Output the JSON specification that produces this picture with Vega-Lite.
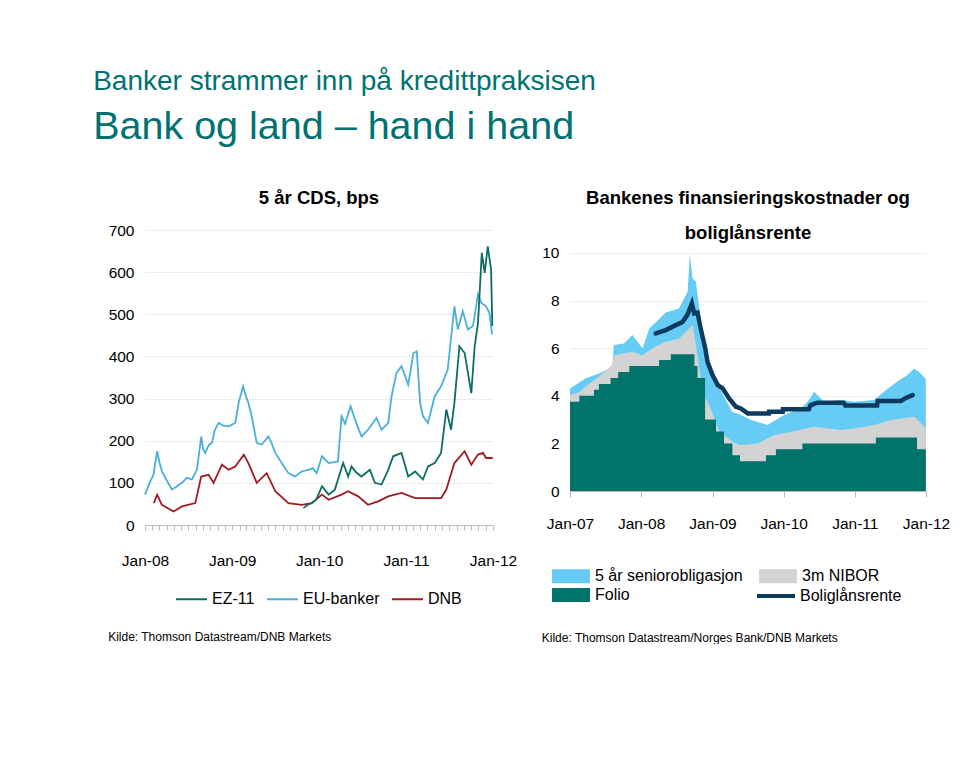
{
 "$schema": "https://vega.github.io/schema/vega-lite/v6.json",
 "background": "white",
 "padding": {"left": 93, "top": 68, "right": 0, "bottom": 0},
 "title": {
  "text": "Banker strammer inn på kredittpraksisen",
  "subtitle": "Bank og land – hand i hand",
  "anchor": "start", "frame": "bounds",
  "font": "Liberation Sans", "fontSize": 28, "fontWeight": "normal", "color": "#007272",
  "subtitleFont": "Liberation Sans", "subtitleFontSize": 39.5, "subtitleColor": "#007272", "subtitlePadding": 12,
  "offset": 42, "dx": -15
 },
 "datasets": {
  "cds": [
   {"date":"2008-01-01","series":"EU-banker","value":72},
   {"date":"2008-01-12","series":"EU-banker","value":88},
   {"date":"2008-01-20","series":"EU-banker","value":100},
   {"date":"2008-02-05","series":"EU-banker","value":118},
   {"date":"2008-02-21","series":"EU-banker","value":175},
   {"date":"2008-03-01","series":"EU-banker","value":150},
   {"date":"2008-03-12","series":"EU-banker","value":127},
   {"date":"2008-04-02","series":"EU-banker","value":105},
   {"date":"2008-04-23","series":"EU-banker","value":84},
   {"date":"2008-05-10","series":"EU-banker","value":90},
   {"date":"2008-06-04","series":"EU-banker","value":100},
   {"date":"2008-06-25","series":"EU-banker","value":112},
   {"date":"2008-07-16","series":"EU-banker","value":108},
   {"date":"2008-08-06","series":"EU-banker","value":131},
   {"date":"2008-08-24","series":"EU-banker","value":210},
   {"date":"2008-09-01","series":"EU-banker","value":180},
   {"date":"2008-09-10","series":"EU-banker","value":171},
   {"date":"2008-09-25","series":"EU-banker","value":190},
   {"date":"2008-10-08","series":"EU-banker","value":195},
   {"date":"2008-10-20","series":"EU-banker","value":225},
   {"date":"2008-11-05","series":"EU-banker","value":242},
   {"date":"2008-11-25","series":"EU-banker","value":236},
   {"date":"2008-12-17","series":"EU-banker","value":234},
   {"date":"2009-01-14","series":"EU-banker","value":242},
   {"date":"2009-01-28","series":"EU-banker","value":290},
   {"date":"2009-02-16","series":"EU-banker","value":329},
   {"date":"2009-02-28","series":"EU-banker","value":305},
   {"date":"2009-03-10","series":"EU-banker","value":290},
   {"date":"2009-03-24","series":"EU-banker","value":258},
   {"date":"2009-04-14","series":"EU-banker","value":195},
   {"date":"2009-05-05","series":"EU-banker","value":191},
   {"date":"2009-06-02","series":"EU-banker","value":210},
   {"date":"2009-06-15","series":"EU-banker","value":195},
   {"date":"2009-07-01","series":"EU-banker","value":171},
   {"date":"2009-07-28","series":"EU-banker","value":147},
   {"date":"2009-08-25","series":"EU-banker","value":123},
   {"date":"2009-09-22","series":"EU-banker","value":115},
   {"date":"2009-10-20","series":"EU-banker","value":127},
   {"date":"2009-11-17","series":"EU-banker","value":131},
   {"date":"2009-12-05","series":"EU-banker","value":135},
   {"date":"2009-12-22","series":"EU-banker","value":123},
   {"date":"2010-01-13","series":"EU-banker","value":163},
   {"date":"2010-02-10","series":"EU-banker","value":147},
   {"date":"2010-03-21","series":"EU-banker","value":151},
   {"date":"2010-04-05","series":"EU-banker","value":258},
   {"date":"2010-04-20","series":"EU-banker","value":240},
   {"date":"2010-05-13","series":"EU-banker","value":282},
   {"date":"2010-06-01","series":"EU-banker","value":250},
   {"date":"2010-06-28","series":"EU-banker","value":210},
   {"date":"2010-07-25","series":"EU-banker","value":226},
   {"date":"2010-08-30","series":"EU-banker","value":254},
   {"date":"2010-09-20","series":"EU-banker","value":226},
   {"date":"2010-10-18","series":"EU-banker","value":242},
   {"date":"2010-11-01","series":"EU-banker","value":305},
   {"date":"2010-11-22","series":"EU-banker","value":361},
   {"date":"2010-12-13","series":"EU-banker","value":377},
   {"date":"2011-01-10","series":"EU-banker","value":333},
   {"date":"2011-02-01","series":"EU-banker","value":408},
   {"date":"2011-02-15","series":"EU-banker","value":412},
   {"date":"2011-03-01","series":"EU-banker","value":290},
   {"date":"2011-03-13","series":"EU-banker","value":258},
   {"date":"2011-04-03","series":"EU-banker","value":242},
   {"date":"2011-05-01","series":"EU-banker","value":305},
   {"date":"2011-05-28","series":"EU-banker","value":329},
   {"date":"2011-06-25","series":"EU-banker","value":369},
   {"date":"2011-07-23","series":"EU-banker","value":519},
   {"date":"2011-08-06","series":"EU-banker","value":464},
   {"date":"2011-08-27","series":"EU-banker","value":507},
   {"date":"2011-09-18","series":"EU-banker","value":464},
   {"date":"2011-10-09","series":"EU-banker","value":472},
   {"date":"2011-10-30","series":"EU-banker","value":547},
   {"date":"2011-11-13","series":"EU-banker","value":527},
   {"date":"2011-12-03","series":"EU-banker","value":519},
   {"date":"2011-12-17","series":"EU-banker","value":503},
   {"date":"2011-12-28","series":"EU-banker","value":452},
   {"date":"2008-02-07","series":"DNB","value":52},
   {"date":"2008-02-21","series":"DNB","value":72},
   {"date":"2008-03-12","series":"DNB","value":48},
   {"date":"2008-04-30","series":"DNB","value":32},
   {"date":"2008-06-04","series":"DNB","value":44},
   {"date":"2008-07-30","series":"DNB","value":52},
   {"date":"2008-08-24","series":"DNB","value":115},
   {"date":"2008-09-24","series":"DNB","value":119},
   {"date":"2008-10-15","series":"DNB","value":100},
   {"date":"2008-11-19","series":"DNB","value":143},
   {"date":"2008-12-17","series":"DNB","value":131},
   {"date":"2009-01-14","series":"DNB","value":139},
   {"date":"2009-02-19","series":"DNB","value":167},
   {"date":"2009-03-10","series":"DNB","value":147},
   {"date":"2009-04-14","series":"DNB","value":100},
   {"date":"2009-05-26","series":"DNB","value":123},
   {"date":"2009-07-01","series":"DNB","value":80},
   {"date":"2009-08-25","series":"DNB","value":52},
   {"date":"2009-10-20","series":"DNB","value":48},
   {"date":"2009-12-01","series":"DNB","value":52},
   {"date":"2010-01-13","series":"DNB","value":72},
   {"date":"2010-02-10","series":"DNB","value":60},
   {"date":"2010-04-05","series":"DNB","value":72},
   {"date":"2010-05-03","series":"DNB","value":80},
   {"date":"2010-06-14","series":"DNB","value":68},
   {"date":"2010-07-25","series":"DNB","value":48},
   {"date":"2010-09-06","series":"DNB","value":56},
   {"date":"2010-10-18","series":"DNB","value":68},
   {"date":"2010-12-13","series":"DNB","value":76},
   {"date":"2011-02-08","series":"DNB","value":64},
   {"date":"2011-04-03","series":"DNB","value":64},
   {"date":"2011-05-28","series":"DNB","value":64},
   {"date":"2011-06-19","series":"DNB","value":84},
   {"date":"2011-07-23","series":"DNB","value":147},
   {"date":"2011-09-04","series":"DNB","value":175},
   {"date":"2011-10-02","series":"DNB","value":143},
   {"date":"2011-10-30","series":"DNB","value":167},
   {"date":"2011-11-20","series":"DNB","value":171},
   {"date":"2011-12-03","series":"DNB","value":159},
   {"date":"2011-12-31","series":"DNB","value":159},
   {"date":"2009-10-27","series":"EZ-11","value":40},
   {"date":"2009-11-15","series":"EZ-11","value":48},
   {"date":"2009-12-01","series":"EZ-11","value":52},
   {"date":"2009-12-20","series":"EZ-11","value":60},
   {"date":"2010-01-13","series":"EZ-11","value":92},
   {"date":"2010-02-10","series":"EZ-11","value":72},
   {"date":"2010-03-08","series":"EZ-11","value":84},
   {"date":"2010-04-12","series":"EZ-11","value":147},
   {"date":"2010-05-03","series":"EZ-11","value":115},
   {"date":"2010-05-17","series":"EZ-11","value":139},
   {"date":"2010-06-05","series":"EZ-11","value":125},
   {"date":"2010-06-28","series":"EZ-11","value":115},
   {"date":"2010-08-02","series":"EZ-11","value":131},
   {"date":"2010-08-23","series":"EZ-11","value":100},
   {"date":"2010-09-20","series":"EZ-11","value":96},
   {"date":"2010-10-18","series":"EZ-11","value":131},
   {"date":"2010-11-08","series":"EZ-11","value":163},
   {"date":"2010-12-13","series":"EZ-11","value":171},
   {"date":"2011-01-10","series":"EZ-11","value":115},
   {"date":"2011-02-08","series":"EZ-11","value":127},
   {"date":"2011-03-13","series":"EZ-11","value":108},
   {"date":"2011-04-03","series":"EZ-11","value":139},
   {"date":"2011-05-01","series":"EZ-11","value":147},
   {"date":"2011-05-28","series":"EZ-11","value":171},
   {"date":"2011-06-19","series":"EZ-11","value":274},
   {"date":"2011-07-09","series":"EZ-11","value":226},
   {"date":"2011-07-23","series":"EZ-11","value":290},
   {"date":"2011-08-13","series":"EZ-11","value":424},
   {"date":"2011-09-04","series":"EZ-11","value":408},
   {"date":"2011-10-02","series":"EZ-11","value":313},
   {"date":"2011-10-16","series":"EZ-11","value":424},
   {"date":"2011-10-30","series":"EZ-11","value":479},
   {"date":"2011-11-15","series":"EZ-11","value":646},
   {"date":"2011-11-27","series":"EZ-11","value":598},
   {"date":"2011-12-10","series":"EZ-11","value":661},
   {"date":"2011-12-24","series":"EZ-11","value":606},
   {"date":"2011-12-29","series":"EZ-11","value":472}
  ],
  "fund": [
   {"date":"2007-01-01","series":"5 år seniorobligasjon","value":4.31},
   {"date":"2007-03-21","series":"5 år seniorobligasjon","value":4.73},
   {"date":"2007-05-29","series":"5 år seniorobligasjon","value":4.94},
   {"date":"2007-08-06","series":"5 år seniorobligasjon","value":5.2},
   {"date":"2007-08-14","series":"5 år seniorobligasjon","value":6.13},
   {"date":"2007-10-05","series":"5 år seniorobligasjon","value":6.2},
   {"date":"2007-11-17","series":"5 år seniorobligasjon","value":6.55},
   {"date":"2008-01-08","series":"5 år seniorobligasjon","value":6.0},
   {"date":"2008-02-12","series":"5 år seniorobligasjon","value":6.83},
   {"date":"2008-05-06","series":"5 år seniorobligasjon","value":7.5},
   {"date":"2008-07-13","series":"5 år seniorobligasjon","value":7.67},
   {"date":"2008-08-26","series":"5 år seniorobligasjon","value":8.37},
   {"date":"2008-09-07","series":"5 år seniorobligasjon","value":9.94},
   {"date":"2008-09-21","series":"5 år seniorobligasjon","value":8.93},
   {"date":"2008-10-08","series":"5 år seniorobligasjon","value":8.8},
   {"date":"2008-10-25","series":"5 år seniorobligasjon","value":7.67},
   {"date":"2008-11-19","series":"5 år seniorobligasjon","value":6.13},
   {"date":"2008-12-15","series":"5 år seniorobligasjon","value":5.0},
   {"date":"2009-02-06","series":"5 år seniorobligasjon","value":4.31},
   {"date":"2009-04-13","series":"5 år seniorobligasjon","value":3.33},
   {"date":"2009-05-26","series":"5 år seniorobligasjon","value":3.2},
   {"date":"2009-07-12","series":"5 år seniorobligasjon","value":3.0},
   {"date":"2009-10-10","series":"5 år seniorobligasjon","value":2.77},
   {"date":"2010-01-03","series":"5 år seniorobligasjon","value":3.19},
   {"date":"2010-03-28","series":"5 år seniorobligasjon","value":3.47},
   {"date":"2010-05-04","series":"5 år seniorobligasjon","value":3.75},
   {"date":"2010-06-06","series":"5 år seniorobligasjon","value":4.17},
   {"date":"2010-07-28","series":"5 år seniorobligasjon","value":3.75},
   {"date":"2010-10-21","series":"5 år seniorobligasjon","value":3.82},
   {"date":"2010-12-29","series":"5 år seniorobligasjon","value":3.75},
   {"date":"2011-04-10","series":"5 år seniorobligasjon","value":3.82},
   {"date":"2011-05-30","series":"5 år seniorobligasjon","value":4.17},
   {"date":"2011-08-07","series":"5 år seniorobligasjon","value":4.6},
   {"date":"2011-09-27","series":"5 år seniorobligasjon","value":4.87},
   {"date":"2011-11-02","series":"5 år seniorobligasjon","value":5.15},
   {"date":"2011-12-06","series":"5 år seniorobligasjon","value":4.94},
   {"date":"2011-12-31","series":"5 år seniorobligasjon","value":4.7},
   {"date":"2007-01-01","series":"3m NIBOR","value":4.03},
   {"date":"2007-02-17","series":"3m NIBOR","value":4.15},
   {"date":"2007-03-21","series":"3m NIBOR","value":4.38},
   {"date":"2007-05-29","series":"3m NIBOR","value":4.8},
   {"date":"2007-08-06","series":"3m NIBOR","value":5.3},
   {"date":"2007-08-14","series":"3m NIBOR","value":5.7},
   {"date":"2007-11-17","series":"3m NIBOR","value":5.85},
   {"date":"2008-01-08","series":"3m NIBOR","value":5.7},
   {"date":"2008-02-28","series":"3m NIBOR","value":6.0},
   {"date":"2008-05-06","series":"3m NIBOR","value":6.27},
   {"date":"2008-07-13","series":"3m NIBOR","value":6.4},
   {"date":"2008-09-04","series":"3m NIBOR","value":6.83},
   {"date":"2008-09-21","series":"3m NIBOR","value":6.97},
   {"date":"2008-10-16","series":"3m NIBOR","value":5.7},
   {"date":"2008-11-11","series":"3m NIBOR","value":4.17},
   {"date":"2008-12-15","series":"3m NIBOR","value":3.6},
   {"date":"2009-02-06","series":"3m NIBOR","value":2.5},
   {"date":"2009-04-13","series":"3m NIBOR","value":2.07},
   {"date":"2009-05-26","series":"3m NIBOR","value":1.93},
   {"date":"2009-08-20","series":"3m NIBOR","value":2.0},
   {"date":"2009-11-14","series":"3m NIBOR","value":2.35},
   {"date":"2010-02-08","series":"3m NIBOR","value":2.49},
   {"date":"2010-06-06","series":"3m NIBOR","value":2.7},
   {"date":"2010-10-21","series":"3m NIBOR","value":2.56},
   {"date":"2010-12-29","series":"3m NIBOR","value":2.63},
   {"date":"2011-04-10","series":"3m NIBOR","value":2.77},
   {"date":"2011-07-04","series":"3m NIBOR","value":2.98},
   {"date":"2011-11-02","series":"3m NIBOR","value":3.12},
   {"date":"2011-12-15","series":"3m NIBOR","value":2.77},
   {"date":"2011-12-31","series":"3m NIBOR","value":2.63},
   {"date":"2007-01-01","series":"Folio","value":3.75},
   {"date":"2007-02-18","series":"Folio","value":4.0},
   {"date":"2007-05-04","series":"Folio","value":4.25},
   {"date":"2007-05-29","series":"Folio","value":4.5},
   {"date":"2007-07-28","series":"Folio","value":4.75},
   {"date":"2007-09-05","series":"Folio","value":5.0},
   {"date":"2007-11-01","series":"Folio","value":5.25},
   {"date":"2008-04-02","series":"Folio","value":5.5},
   {"date":"2008-06-01","series":"Folio","value":5.75},
   {"date":"2008-09-30","series":"Folio","value":5.25},
   {"date":"2008-10-16","series":"Folio","value":4.75},
   {"date":"2008-11-24","series":"Folio","value":3.0},
   {"date":"2009-01-19","series":"Folio","value":2.5},
   {"date":"2009-03-01","series":"Folio","value":2.0},
   {"date":"2009-04-13","series":"Folio","value":1.5},
   {"date":"2009-05-22","series":"Folio","value":1.25},
   {"date":"2009-10-02","series":"Folio","value":1.5},
   {"date":"2009-11-22","series":"Folio","value":1.75},
   {"date":"2010-04-07","series":"Folio","value":2.0},
   {"date":"2011-04-19","series":"Folio","value":2.25},
   {"date":"2011-11-16","series":"Folio","value":1.75},
   {"date":"2011-12-31","series":"Folio","value":1.75},
   {"date":"2008-03-16","series":"Boliglånsrente","value":6.62},
   {"date":"2008-05-06","series":"Boliglånsrente","value":6.76},
   {"date":"2008-06-27","series":"Boliglånsrente","value":6.97},
   {"date":"2008-07-31","series":"Boliglånsrente","value":7.1},
   {"date":"2008-08-25","series":"Boliglånsrente","value":7.4},
   {"date":"2008-09-17","series":"Boliglånsrente","value":7.88},
   {"date":"2008-09-29","series":"Boliglånsrente","value":7.46},
   {"date":"2008-10-16","series":"Boliglånsrente","value":7.5},
   {"date":"2008-11-03","series":"Boliglånsrente","value":6.76},
   {"date":"2008-11-25","series":"Boliglånsrente","value":5.99},
   {"date":"2008-12-06","series":"Boliglånsrente","value":5.43},
   {"date":"2009-01-01","series":"Boliglånsrente","value":4.87},
   {"date":"2009-01-28","series":"Boliglånsrente","value":4.45},
   {"date":"2009-02-22","series":"Boliglånsrente","value":4.31},
   {"date":"2009-03-27","series":"Boliglånsrente","value":3.89},
   {"date":"2009-05-01","series":"Boliglånsrente","value":3.54},
   {"date":"2009-05-26","series":"Boliglånsrente","value":3.47},
   {"date":"2009-07-01","series":"Boliglånsrente","value":3.26},
   {"date":"2009-10-17","series":"Boliglånsrente","value":3.26},
   {"date":"2009-10-18","series":"Boliglånsrente","value":3.33},
   {"date":"2009-12-27","series":"Boliglånsrente","value":3.33},
   {"date":"2009-12-28","series":"Boliglånsrente","value":3.43},
   {"date":"2010-05-10","series":"Boliglånsrente","value":3.43},
   {"date":"2010-05-19","series":"Boliglånsrente","value":3.61},
   {"date":"2010-06-24","series":"Boliglånsrente","value":3.71},
   {"date":"2010-11-05","series":"Boliglånsrente","value":3.71},
   {"date":"2010-11-13","series":"Boliglånsrente","value":3.59},
   {"date":"2011-04-25","series":"Boliglånsrente","value":3.59},
   {"date":"2011-04-28","series":"Boliglånsrente","value":3.78},
   {"date":"2011-08-25","series":"Boliglånsrente","value":3.78},
   {"date":"2011-09-22","series":"Boliglånsrente","value":3.92},
   {"date":"2011-10-25","series":"Boliglånsrente","value":4.03}
  ]
 },
 "spacing": 24,
 "resolve": {"scale": {"color": "independent", "fill": "independent", "stroke": "independent"}, "legend": {"color": "independent", "fill": "independent", "stroke": "independent"}},
 "hconcat": [
  {
   "title": {"text": "Kilde: Thomson Datastream/DNB Markets", "orient": "bottom", "anchor": "start", "frame": "bounds", "font": "Liberation Sans", "fontSize": 12, "fontWeight": "normal", "color": "black", "offset": 24},
   "resolve": {"legend": {"color": "independent"}},
   "vconcat": [
    {
     "width": 348, "height": 295,
     "title": {"text": "5 år CDS, bps", "font": "Liberation Sans", "fontSize": 18.5, "fontWeight": "bold", "anchor": "middle", "offset": 16, "color": "black"},
     "data": {"name": "cds"},
     "mark": {"type": "line", "strokeWidth": 1.8},
     "encoding": {
      "x": {"field": "date", "type": "temporal",
       "scale": {"domain": [{"year": 2008, "month": 1, "date": 1}, {"year": 2012, "month": 1, "date": 1}]},
       "axis": {"title": null, "tickCount": {"interval": "month", "step": 1}, "labelExpr": "month(datum.value) == 0 ? timeFormat(datum.value, '%b-%y') : ''", "grid": false, "tickSize": 5, "labelPadding": 23, "labelFlush": false, "labelOverlap": false}},
      "y": {"field": "value", "type": "quantitative", "scale": {"domain": [0, 700], "nice": false},
       "axis": {"title": null, "values": [0, 100, 200, 300, 400, 500, 600, 700], "grid": true, "gridColor": "#ececec", "domain": false, "ticks": false, "labelPadding": 11}},
      "color": {"field": "series", "type": "nominal",
       "scale": {"domain": ["EZ-11", "EU-banker", "DNB"], "range": ["#0b6e64", "#4aafdb", "#a01c25"]},
       "legend": {"orient": "none", "legendX": 30, "legendY": 352.5, "direction": "horizontal", "title": null, "symbolType": "stroke", "symbolSize": 961, "symbolStrokeWidth": 2, "labelOffset": 4, "columnPadding": 8}}
     }
    }
   ]
  },
  {
   "title": {"text": "Kilde: Thomson Datastream/Norges Bank/DNB Markets", "orient": "bottom", "anchor": "start", "frame": "bounds", "font": "Liberation Sans", "fontSize": 12, "fontWeight": "normal", "color": "black", "offset": 28},
   "resolve": {"legend": {"fill": "independent", "stroke": "independent"}},
   "vconcat": [
    {
     "width": 356, "height": 261,
     "title": {"text": ["Bankenes finansieringskostnader og", "boliglånsrente"], "lineHeight": 35, "font": "Liberation Sans", "fontSize": 18.5, "fontWeight": "bold", "anchor": "middle", "offset": -12, "color": "black"},
     "data": {"name": "fund"},
     "encoding": {
      "x": {"field": "date", "type": "temporal",
       "scale": {"domain": [{"year": 2007, "month": 1, "date": 1}, {"year": 2012, "month": 1, "date": 1}]},
       "axis": {"title": null, "tickCount": {"interval": "year", "step": 1}, "format": "%b-%y", "grid": false, "tickSize": 6, "labelPadding": 19, "labelFlush": false, "labelOverlap": false}},
      "y": {"field": "value", "type": "quantitative", "stack": null, "scale": {"domain": [0, 10.966], "nice": false},
       "axis": {"title": null, "values": [0, 2, 4, 6, 8, 10], "grid": true, "gridColor": "#ececec", "domain": false, "ticks": false, "labelPadding": 11}}
     },
     "layer": [
      {"transform": [{"filter": "datum.series == '5 år seniorobligasjon'"}],
       "mark": {"type": "area"},
       "encoding": {"fill": {"field": "series", "type": "nominal",
        "scale": {"domain": ["5 år seniorobligasjon", "Folio", "3m NIBOR"], "range": ["#66ccf5", "#00736b", "#d3d3d3"]},
        "legend": {"orient": "none", "legendX": -8.5, "legendY": 336.5, "columns": 2, "title": null, "symbolType": "M-2,-0.74H2V0.74H-2Z", "symbolSize": 361, "symbolStrokeWidth": 0, "labelOffset": 14.5, "columnPadding": 15, "rowPadding": 1}}}},
      {"transform": [{"filter": "datum.series == '3m NIBOR'"}],
       "mark": {"type": "area"},
       "encoding": {"fill": {"field": "series", "type": "nominal"}}},
      {"transform": [{"filter": "datum.series == 'Folio'"}],
       "mark": {"type": "area", "interpolate": "step-after"},
       "encoding": {"fill": {"field": "series", "type": "nominal"}}},
      {"transform": [{"filter": "datum.series == 'Boliglånsrente'"}],
       "mark": {"type": "line", "strokeWidth": 4.5, "strokeCap": "round"},
       "encoding": {"stroke": {"field": "series", "type": "nominal",
        "scale": {"domain": ["Boliglånsrente"], "range": ["#0d3b5e"]},
        "legend": {"orient": "none", "legendX": 194.5, "legendY": 354.5, "title": null, "symbolType": "M-2,0H2", "symbolSize": 361, "symbolStrokeWidth": 4, "labelOffset": 12.5}}}}
     ]
    }
   ]
  }
 ],
 "config": {
  "view": {"stroke": null},
  "axis": {"labelFont": "Liberation Sans", "labelFontSize": 15.5, "labelColor": "black", "domainColor": "#bbbbbb", "tickColor": "#bbbbbb"},
  "legend": {"labelFont": "Liberation Sans", "labelFontSize": 16, "labelColor": "black"}
 }
}
